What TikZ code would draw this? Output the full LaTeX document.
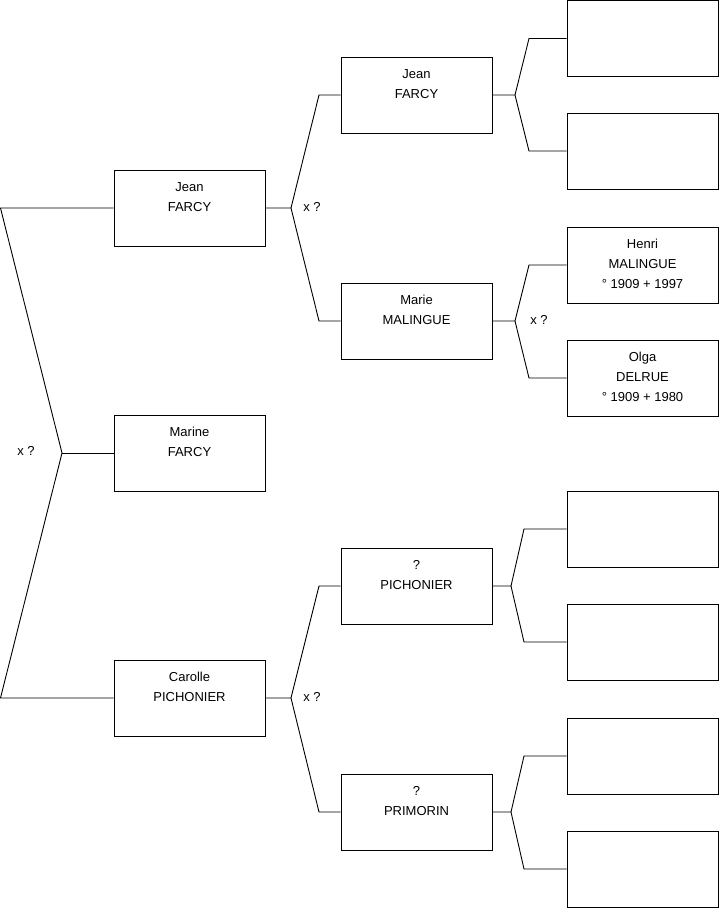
\documentclass[tikz,border=0pt]{standalone}
\usepackage{fontspec}
\setmainfont{Liberation Sans}
\usetikzlibrary{calc}
\begin{document}
\begin{tikzpicture}[x=1pt,y=-1pt,
  box/.style={draw=black, line width=0.9pt, minimum width=151pt, minimum height=76pt, inner sep=0pt},
  lbl/.style={anchor=north, inner sep=0pt, align=center, font=\fontsize{13}{20}\selectfont, execute at begin node=\strut},
  xmark/.style={inner sep=0pt, font=\fontsize{13}{20}\selectfont},
  conn/.style={draw=black, line width=0.9pt, line join=miter}]
\useasboundingbox (0,0) rectangle (719,908);
% column 1
\node[box] (c1a) at (189.5,208) {};
\node[box] (c1b) at (189.5,453) {};
\node[box] (c1c) at (189.5,698) {};
% column 2
\node[box] (c2a) at (416.5,95) {};
\node[box] (c2b) at (416.5,321) {};
\node[box] (c2c) at (416.5,586) {};
\node[box] (c2d) at (416.5,812) {};
% column 3
\node[box] (c3a) at (642.5,38.5) {};
\node[box] (c3b) at (642.5,151) {};
\node[box] (c3c) at (642.5,265) {};
\node[box] (c3d) at (642.5,378) {};
\node[box] (c3e) at (642.5,529) {};
\node[box] (c3f) at (642.5,642) {};
\node[box] (c3g) at (642.5,756) {};
\node[box] (c3h) at (642.5,869) {};
% labels
\node[lbl] (t1a) at ($(c1a.north)+(0,12.7)$) {Jean\\FARCY};
\node[lbl] (t1b) at ($(c1b.north)+(0,12.7)$) {Marine\\FARCY};
\node[lbl] (t1c) at ($(c1c.north)+(0,12.7)$) {Carolle\\PICHONIER};
\node[lbl] (t2a) at ($(c2a.north)+(0,12.7)$) {Jean\\FARCY};
\node[lbl] (t2b) at ($(c2b.north)+(0,12.7)$) {Marie\\MALINGUE};
\node[lbl] (t2c) at ($(c2c.north)+(0,12.7)$) {?\\PICHONIER};
\node[lbl] (t2d) at ($(c2d.north)+(0,12.7)$) {?\\PRIMORIN};
\node[lbl] (t3c) at ($(c3c.north)+(0,12.7)$) {Henri\\MALINGUE\\° 1909 + 1997};
\node[lbl] (t3d) at ($(c3d.north)+(0,12.7)$) {Olga\\DELRUE\\° 1909 + 1980};
% junction coordinates
\coordinate (l0a) at (0.5,208);
\coordinate (l0j) at (62,453);
\coordinate (l0c) at (0.5,698);
\coordinate (j1a) at (291,208);
\coordinate (u1a) at (319,95);
\coordinate (d1a) at (319,321);
\coordinate (j1c) at (291,698);
\coordinate (u1c) at (319,586);
\coordinate (d1c) at (319,812);
\coordinate (j2a) at (515,95);
\coordinate (u2a) at (529,38.5);
\coordinate (d2a) at (529,151);
\coordinate (j2b) at (515,321);
\coordinate (u2b) at (529,265);
\coordinate (d2b) at (529,378);
\coordinate (j2c) at (511,586);
\coordinate (u2c) at (524,529);
\coordinate (d2c) at (524,642);
\coordinate (j2d) at (511,812);
\coordinate (u2d) at (524,756);
\coordinate (d2d) at (524,869);
% connectors
\draw[conn] (c1a.west) -- (l0a) -- (l0j) -- (l0c) -- (c1c.west);
\draw[conn] (l0j) -- (c1b.west);
\draw[conn] (c1a.east) -- (j1a) -- (u1a) -- (c2a.west);
\draw[conn] (j1a) -- (d1a) -- (c2b.west);
\draw[conn] (c1c.east) -- (j1c) -- (u1c) -- (c2c.west);
\draw[conn] (j1c) -- (d1c) -- (c2d.west);
\draw[conn] (c2a.east) -- (j2a) -- (u2a) -- (c3a.west);
\draw[conn] (j2a) -- (d2a) -- (c3b.west);
\draw[conn] (c2b.east) -- (j2b) -- (u2b) -- (c3c.west);
\draw[conn] (j2b) -- (d2b) -- (c3d.west);
\draw[conn] (c2c.east) -- (j2c) -- (u2c) -- (c3e.west);
\draw[conn] (j2c) -- (d2c) -- (c3f.west);
\draw[conn] (c2d.east) -- (j2d) -- (u2d) -- (c3g.west);
\draw[conn] (j2d) -- (d2d) -- (c3h.west);
% marriage marks
\node[xmark] (m0) at (26,451) {x ?};
\node[xmark] (m1a) at (312,207) {x ?};
\node[xmark] (m1c) at (312,697) {x ?};
\node[xmark] (m2b) at (539,320) {x ?};
\end{tikzpicture}
\end{document}
